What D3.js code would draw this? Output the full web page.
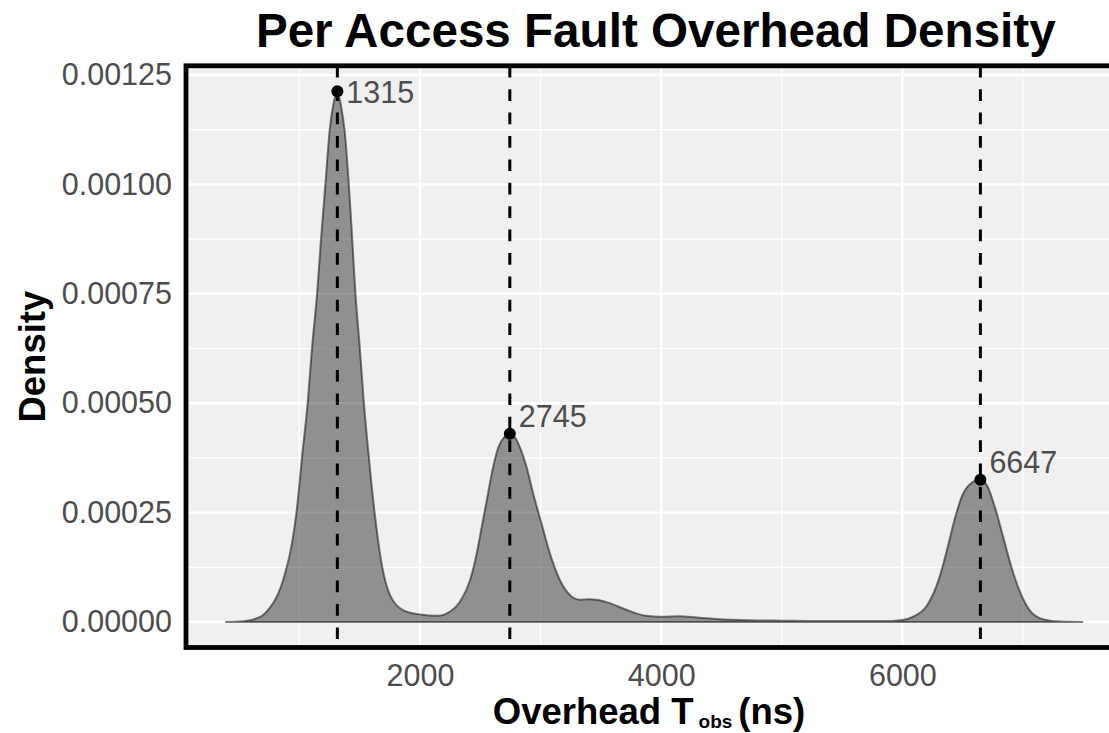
<!DOCTYPE html>
<html lang="en">
<head>
<meta charset="UTF-8">
<title>Per Access Fault Overhead Density</title>
<script src="https://d3js.org/d3.v7.min.js"></script>
<style>
body, html {
	margin: 0;
	padding: 0;
	background: white;
}
svg text {
	font-family: "Liberation Sans", Arial, Helvetica, sans-serif;
}
.panel-bg {
	fill: #f0f0f0;
}
.grid-major {
	stroke: white;
	stroke-width: 2.4px;
}
.grid-minor {
	stroke: white;
	stroke-width: 1.2px;
}
.density {
	fill: rgba(0, 0, 0, 0.4);
	stroke: rgba(0, 0, 0, 0.5);
	stroke-width: 2px;
}
.peak-line {
	stroke: black;
	stroke-width: 3px;
	stroke-dasharray: 11.7 11.7;
}
.peak-dot {
	fill: black;
}
.peak-label, .tick-label {
	fill: #4d4d4d;
	font-size: 30.5px;
}
.border {
	fill: none;
	stroke: black;
	stroke-width: 4.8px;
}
.title {
	fill: black;
	font-size: 47.6px;
	font-weight: bold;
}
.axis-title {
	fill: black;
	font-size: 36.5px;
	font-weight: bold;
}
</style>
</head>
<body>
<script>
// density estimate (x in ns)
var overheadNs = [385, 500, 620, 700, 759, 820, 870, 939, 981, 1022, 1069, 1105, 1147, 1180, 1216, 1252, 1280, 1315,
	1345, 1374, 1410, 1438, 1465, 1501, 1535, 1576, 1623, 1687, 1756, 1867, 2006, 2140, 2251, 2333, 2416, 2471,
	2512, 2554, 2595, 2650, 2700, 2745, 2790, 2829, 2884, 2939, 3008, 3077, 3160, 3242, 3325, 3400, 3463, 3573,
	3711, 3876, 4000, 4152, 4300, 4457, 4735, 5000, 5290, 5600, 5846, 5986, 6096, 6207, 6303, 6372, 6427, 6496,
	6565, 6647, 6702, 6771, 6840, 6909, 6978, 7061, 7171, 7309, 7500];
var densityVals = [0, 0.000001, 0.000006, 0.000016, 0.000034, 0.000062, 0.0001, 0.00018, 0.000262, 0.000377, 0.000501,
	0.000627, 0.000751, 0.000876, 0.001001, 0.001126, 0.00118, 0.001213,
	0.00118, 0.001126, 0.001001, 0.000876, 0.000751, 0.000627, 0.000501, 0.000377, 0.000252, 0.000126, 0.000059,
	0.000026, 0.000017, 0.000014, 0.000024, 0.000047, 0.000096, 0.000157,
	0.000217, 0.000278, 0.000339, 0.000399, 0.000423, 0.00043, 0.000421, 0.000399, 0.000354, 0.000293, 0.000225,
	0.000157, 0.000096, 0.000062, 0.000051, 0.000052, 0.000051, 0.000043,
	0.000028, 0.000014, 0.000012, 0.000013, 0.00001, 0.000007, 0.000004, 0.000003, 0.000002, 0.000002, 0.000002,
	0.000004, 0.000013, 0.000039, 0.000098, 0.000167, 0.000228, 0.000289,
	0.000316, 0.000325, 0.000312, 0.000259, 0.00019, 0.000121, 0.000067, 0.000025, 0.000006, 0.000001, 0];

// modes
var peakNs = [1315, 2745, 6647];
var peakDensity = [0.001213, 0.00043, 0.000325];

var xTicks = [2000, 4000, 6000];
var xMinor = [1000, 3000, 5000, 7000];
var yTicks = [0, 0.00025, 0.0005, 0.00075, 0.001, 0.00125];
var yMinor = [0.000125, 0.000375, 0.000625, 0.000875, 0.001125];

var titleText = "Per Access Fault Overhead Density";

var w = 1109;
var h = 733;
var panel = { left: 186, right: 1125.6, top: 65.8, bottom: 647.5 };

var svg = d3.select("body").append("svg")
	.attr("width", w)
	.attr("height", h);

var x = d3.scaleLinear()
	.domain([60, 7851])
	.range([panel.left, panel.right]);

var y = d3.scaleLinear()
	.domain([-0.0000583, 0.001271])
	.range([panel.bottom, panel.top]);

var data = overheadNs.map(function(v, i) { return { x: v, y: densityVals[i] }; });
var peaks = peakNs.map(function(v, i) { return { x: v, y: peakDensity[i] }; });

svg.append("rect")
	.classed("panel-bg", true)
	.attr("x", panel.left)
	.attr("y", panel.top)
	.attr("width", panel.right - panel.left)
	.attr("height", panel.bottom - panel.top);

// gridlines
svg.selectAll(".grid-minor.gy")
	.data(yMinor).enter().append("line")
	.attr("class", "grid-minor gy")
	.attr("x1", panel.left).attr("x2", panel.right)
	.attr("y1", y).attr("y2", y);

svg.selectAll(".grid-minor.gx")
	.data(xMinor).enter().append("line")
	.attr("class", "grid-minor gx")
	.attr("y1", panel.top).attr("y2", panel.bottom)
	.attr("x1", x).attr("x2", x);

svg.selectAll(".grid-major.gy")
	.data(yTicks).enter().append("line")
	.attr("class", "grid-major gy")
	.attr("x1", panel.left).attr("x2", panel.right)
	.attr("y1", y).attr("y2", y);

svg.selectAll(".grid-major.gx")
	.data(xTicks).enter().append("line")
	.attr("class", "grid-major gx")
	.attr("y1", panel.top).attr("y2", panel.bottom)
	.attr("x1", x).attr("x2", x);

// density area
var area = d3.area()
	.x(function(d) { return x(d.x); })
	.y0(y(0))
	.y1(function(d) { return y(d.y); })
	.curve(d3.curveMonotoneX);

svg.append("path")
	.datum(data)
	.classed("density", true)
	.attr("d", area);

// peak markers
svg.selectAll(".peak-line")
	.data(peaks).enter().append("line")
	.classed("peak-line", true)
	.attr("x1", function(d) { return x(d.x); })
	.attr("x2", function(d) { return x(d.x); })
	.attr("y1", panel.top)
	.attr("y2", panel.bottom);

svg.selectAll(".peak-dot")
	.data(peaks).enter().append("circle")
	.classed("peak-dot", true)
	.attr("r", 6)
	.attr("cx", function(d) { return x(d.x); })
	.attr("cy", function(d) { return y(d.y); });

svg.selectAll(".peak-label")
	.data(peaks).enter().append("text")
	.classed("peak-label", true)
	.attr("x", function(d) { return x(d.x) + 9; })
	.attr("y", function(d) { return Math.max(y(d.y) - 7, panel.top + 37); }) // keep inside panel
	.text(function(d) { return d.x; });

// border (right edge falls outside the picture)
svg.append("rect")
	.classed("border", true)
	.attr("x", panel.left)
	.attr("y", panel.top)
	.attr("width", panel.right - panel.left)
	.attr("height", panel.bottom - panel.top);

// axes labels
var yAxis = d3.axisLeft(y)
	.tickValues(yTicks)
	.tickSize(0)
	.tickPadding(14)
	.tickFormat(d3.format(".5f"));

var xAxis = d3.axisBottom(x)
	.tickValues(xTicks)
	.tickSize(0)
	.tickPadding(17)
	.tickFormat(d3.format("d"));

var gy = svg.append("g")
	.attr("transform", "translate(" + panel.left + ",0)")
	.call(yAxis);
var gx = svg.append("g")
	.attr("transform", "translate(0," + panel.bottom + ")")
	.call(xAxis);

svg.selectAll(".domain").remove();
svg.selectAll(".tick text")
	.attr("class", "tick-label")
	.attr("font-family", null)
	.attr("font-size", null)
	.attr("fill", null);

svg.append("text")
	.classed("title", true)
	.attr("x", (panel.left + panel.right) / 2)
	.attr("y", 47)
	.style("text-anchor", "middle")
	.text(titleText);

svg.append("text")
	.classed("axis-title", true)
	.style("text-anchor", "middle")
	.attr("transform", "translate(45," + (panel.top + panel.bottom) / 2 + ") rotate(-90)")
	.text("Density");

var xt = svg.append("text")
	.classed("axis-title", true)
	.attr("x", 649)
	.attr("y", 724)
	.style("text-anchor", "middle");
xt.append("tspan").text("Overhead T");
xt.append("tspan").attr("dx", 5).attr("dy", 4).style("font-size", "19px").text("obs");
xt.append("tspan").attr("dx", 6).attr("dy", -4).text("(ns)");
</script>
</body>
</html>
